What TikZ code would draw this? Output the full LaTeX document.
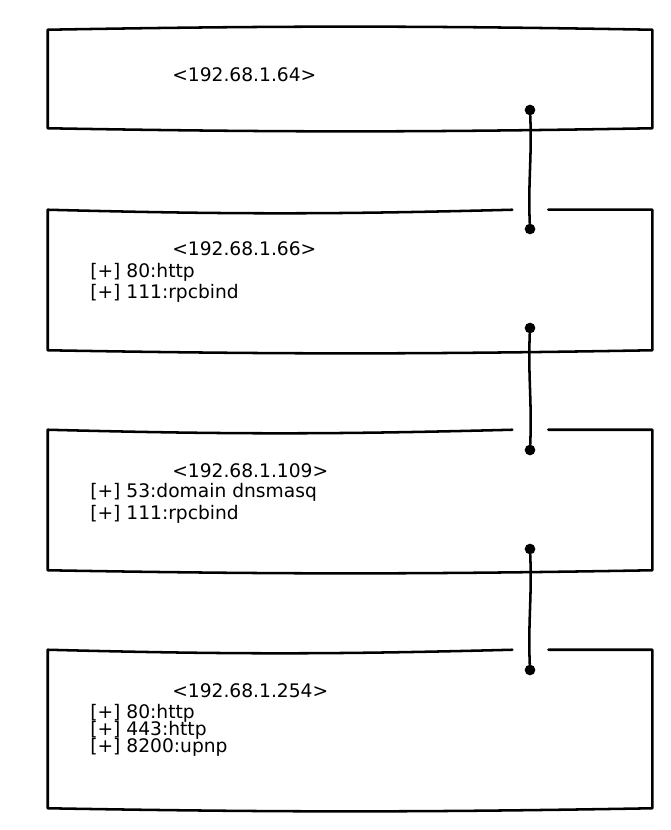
\documentclass[tikz,border=0pt]{standalone}
\usepackage{fontspec}
\setmainfont{DejaVu Sans}
\usetikzlibrary{calc}
\begin{document}
\begin{tikzpicture}[x=0.75pt,y=-0.75pt,
  hostbox/.style={draw=none,inner sep=0pt,minimum width=453pt,rectangle},
  edge/.style={line width=1.9pt,line cap=round,line join=round},
  dotnode/.style={circle,fill=black,inner sep=0pt,minimum size=8pt},
  txt/.style={anchor=base west,inner sep=0pt,font=\fontsize{14}{14}\selectfont}]
\useasboundingbox (0,0) rectangle (670,830);
\fill[white] (0,0) rectangle (670,830);

% boxes
\node[hostbox,minimum height=73.5pt] (b1) at (350,79) {};
\node[hostbox,minimum height=105pt] (b2) at (350,280) {};
\node[hostbox,minimum height=105pt] (b3) at (350,500) {};
\node[hostbox,minimum height=118.5pt] (b4) at (350,729) {};

% box 1 outline (closed)
\draw[edge] (b1.north west) to[bend left=1] (b1.north east) -- (b1.south east)
  to[bend left=1] (b1.south west) -- cycle;
% boxes 2-4 with gap in top edge
\foreach \b in {b2,b3,b4}{
  \draw[edge] ([xshift=-105pt]\b.north east) to[bend left=1.5] (\b.north west)
    -- (\b.south west) to[bend right=1] (\b.south east) -- (\b.north east)
    -- ([xshift=-78pt]\b.north east);
}

% dots
\node[dotnode] (d1b) at (530,110) {};
\node[dotnode] (d2t) at (530,229) {};
\node[dotnode] (d2b) at (530,328) {};
\node[dotnode] (d3t) at (530,450) {};
\node[dotnode] (d3b) at (530,549) {};
\node[dotnode] (d4t) at (530,670) {};

% connectors
\draw[edge] (d1b) .. controls ($(d1b)!0.4!(d2t)+(2,0)$) and ($(d1b)!0.6!(d2t)+(-2,0)$) .. (d2t);
\draw[edge] (d2b) .. controls ($(d2b)!0.4!(d3t)+(-2,0)$) and ($(d2b)!0.6!(d3t)+(2,0)$) .. (d3t);
\draw[edge] (d3b) .. controls ($(d3b)!0.4!(d4t)+(2,0)$) and ($(d3b)!0.6!(d4t)+(-2,0)$) .. (d4t);

% texts
\node[txt] (t1) at (172,82) {<192.68.1.64>};

\node[txt] (t2) at (172,256) {<192.68.1.66>};
\node[txt] (t2a) at (90,277) {[+] 80:http};
\node[txt] (t2b) at (90,298) {[+] 111:rpcbind};

\node[txt] (t3) at (172,477) {<192.68.1.109>};
\node[txt] (t3a) at (90,497) {[+] 53:domain dnsmasq};
\node[txt] (t3b) at (90,519) {[+] 111:rpcbind};

\node[txt] (t4) at (172,697) {<192.68.1.254>};
\node[txt] (t4a) at (90,718) {[+] 80:http};
\node[txt] (t4b) at (90,735) {[+] 443:http};
\node[txt] (t4c) at (90,752) {[+] 8200:upnp};
\end{tikzpicture}
\end{document}
